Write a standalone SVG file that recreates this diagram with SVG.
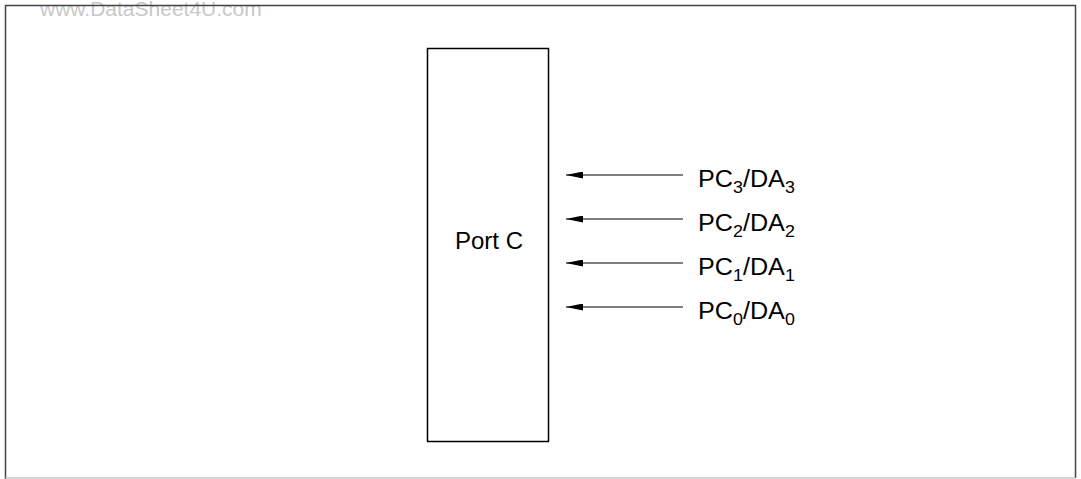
<svg xmlns="http://www.w3.org/2000/svg" width="1081" height="479" viewBox="0 0 1081 479">
<style>
.t{font-family:"Liberation Sans",Arial,sans-serif;font-size:24px;fill:#000}
.s{font-size:17px}
.ln{stroke:#000;stroke-width:1.2;fill:none}
</style>
<defs>
<marker id="ah" markerWidth="17" markerHeight="7" refX="17" refY="3.5" orient="auto" markerUnits="userSpaceOnUse">
<path d="M0,0 L17,3.5 L0,7 Z" fill="#000"/>
</marker>
</defs>
<rect x="0" y="0" width="1081" height="479" fill="#fff"/>
<text x="40" y="16" font-family="Liberation Sans, Arial, sans-serif" font-size="21" fill="#c8c8c8">www.DataSheet4U.com</text>
<g id="frame">
<path d="M5.5,479 V5.5 H1075.5 V478" fill="none" stroke="#444" stroke-width="1.5"/>
<line x1="5.5" y1="478" x2="1075.5" y2="478" stroke="#c8c8c8" stroke-width="1.5"/>
</g>
<g id="portc">
<rect x="427.5" y="48.5" width="121" height="393" fill="#fff" stroke="#000" stroke-width="1.5"/>
<text class="t" x="489" y="248.5" text-anchor="middle">Port C</text>
</g>
<g id="connectors">
<line class="ln" x1="683" y1="175" x2="566" y2="175" marker-end="url(#ah)"/>
<line class="ln" x1="683" y1="219" x2="566" y2="219" marker-end="url(#ah)"/>
<line class="ln" x1="683" y1="263" x2="566" y2="263" marker-end="url(#ah)"/>
<line class="ln" x1="683" y1="307" x2="566" y2="307" marker-end="url(#ah)"/>
</g>
<g id="pc3"><text class="t" transform="translate(698,187) scale(1.05,1)">PC<tspan class="s" dy="6">3</tspan><tspan dy="-6">/DA</tspan><tspan class="s" dy="6">3</tspan></text></g>
<g id="pc2"><text class="t" transform="translate(698,231) scale(1.05,1)">PC<tspan class="s" dy="6">2</tspan><tspan dy="-6">/DA</tspan><tspan class="s" dy="6">2</tspan></text></g>
<g id="pc1"><text class="t" transform="translate(698,275) scale(1.05,1)">PC<tspan class="s" dy="6">1</tspan><tspan dy="-6">/DA</tspan><tspan class="s" dy="6">1</tspan></text></g>
<g id="pc0"><text class="t" transform="translate(698,319) scale(1.05,1)">PC<tspan class="s" dy="6">0</tspan><tspan dy="-6">/DA</tspan><tspan class="s" dy="6">0</tspan></text></g>
</svg>
